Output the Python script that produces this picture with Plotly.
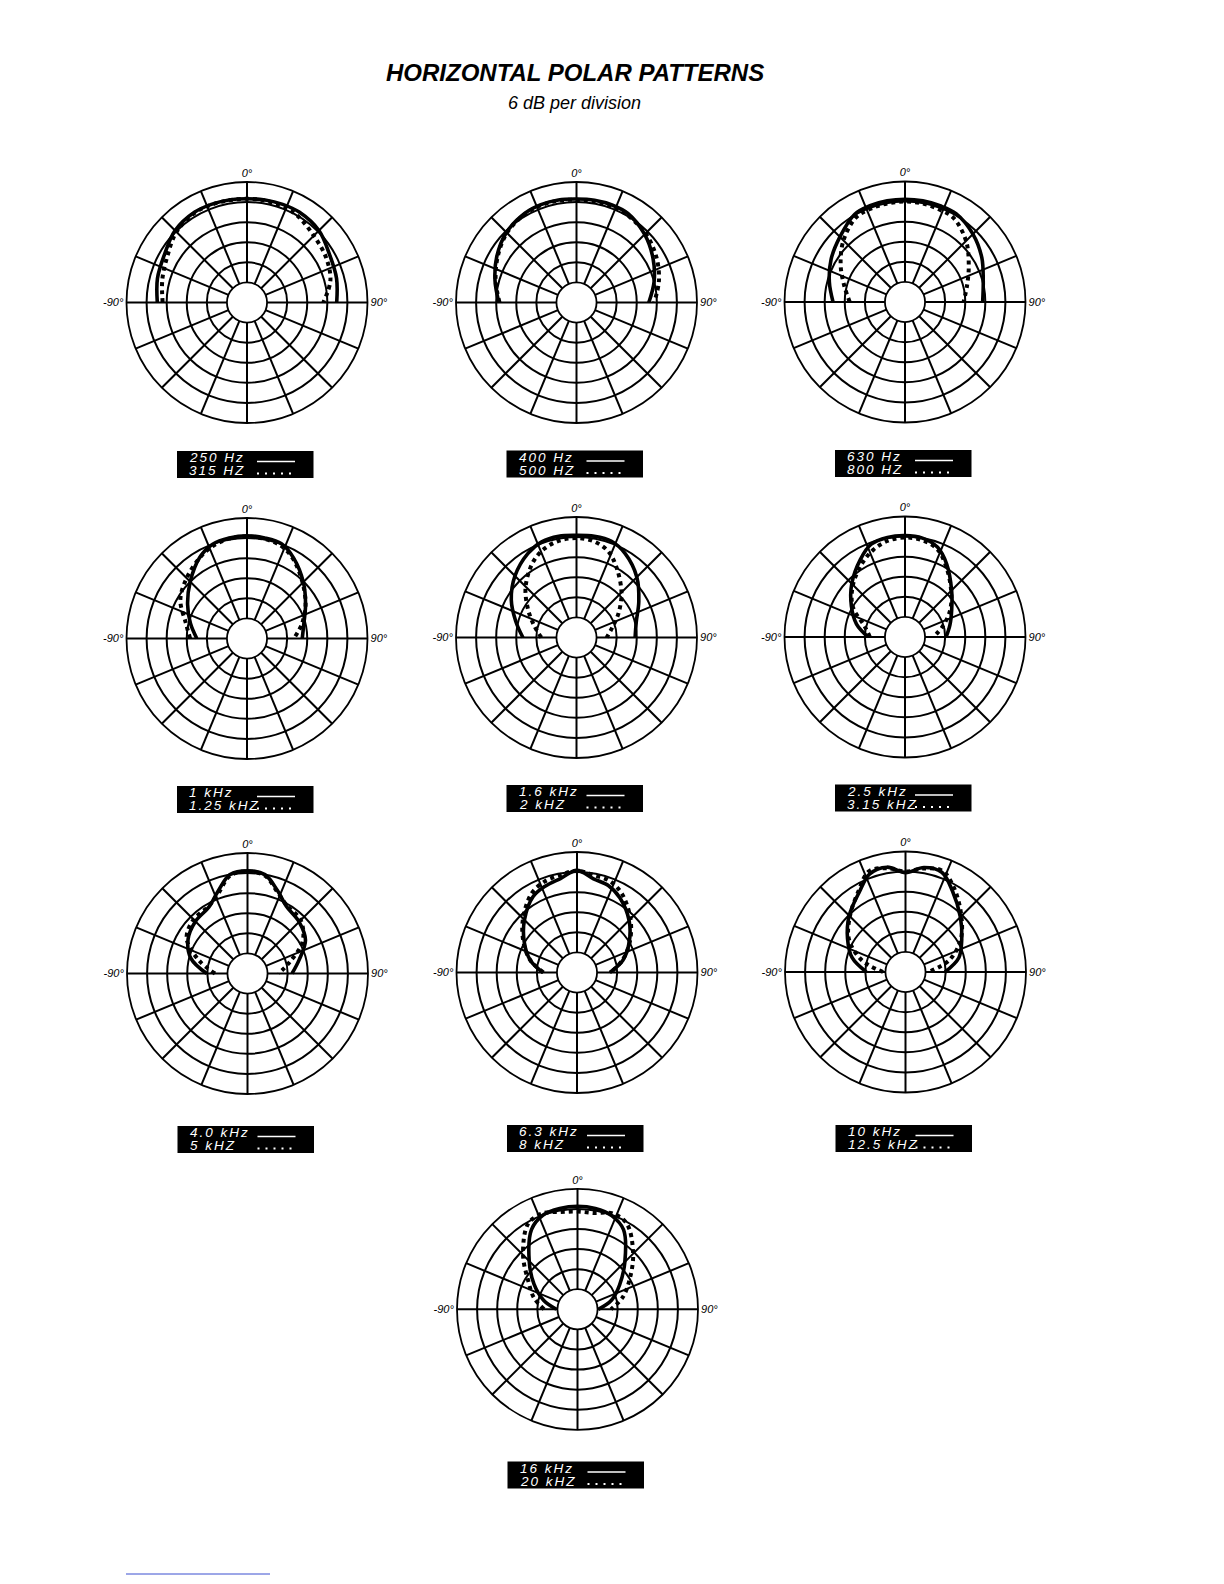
import plotly.graph_objects as go

# ---------------- data (dB relative, 6 dB per division, outer ring = 0 dB) -------------
ANGLES = [-90, -75, -60, -45, -30, -20, -10, 0, 10, 20, 30, 45, 60, 75, 90]

db_250hz = [-9.2, -8.3, -7.5, -5.6, -4.8, -4.8, -4.9, -5.0, -4.9, -4.8, -4.8, -5.6, -7.5, -8.3, -9.2]
db_315hz = [-10.8, -9.8, -8.5, -6.2, -5.0, -4.9, -5.0, -5.0, -5.1, -5.4, -6.0, -7.8, -8.8, -10.2, -13.2]
db_400hz = [-12.8, -10.8, -8.5, -6.4, -5.2, -4.9, -4.9, -5.1, -5.0, -5.0, -5.3, -7.2, -9.6, -12.0, -14.4]
db_500hz = [-13.0, -11.0, -8.8, -6.6, -5.4, -5.1, -5.1, -5.3, -5.4, -5.5, -5.8, -6.8, -8.5, -10.5, -12.8]
db_630hz = [-14.5, -12.6, -10.5, -8.5, -5.8, -5.4, -5.3, -5.3, -5.3, -5.4, -5.5, -7.3, -9.5, -11.8, -12.8]
db_800hz = [-19.5, -17.2, -13.8, -10.0, -6.8, -6.3, -6.1, -6.0, -6.1, -6.5, -7.0, -10.2, -14.0, -16.8, -18.5]
db_1khz = [-21.0, -18.5, -15.5, -12.0, -7.9, -6.0, -5.5, -5.3, -5.5, -5.9, -8.2, -12.2, -15.8, -18.4, -19.5]
db_1k25hz = [-19.0, -17.0, -13.0, -10.5, -8.0, -6.5, -5.7, -5.5, -5.8, -6.5, -8.5, -12.5, -15.8, -19.0, -22.0]
db_1k6hz = [-20.0, -17.2, -13.5, -10.0, -7.0, -5.6, -5.3, -5.5, -5.3, -5.4, -7.0, -10.5, -14.5, -17.5, -18.5]
db_2khz = [-25.5, -23.0, -19.3, -14.5, -10.0, -7.8, -6.6, -6.3, -6.8, -8.5, -12.0, -17.0, -21.5, -25.0, -27.0]
db_2k5hz = [-25.0, -21.0, -17.5, -13.5, -9.3, -6.5, -5.8, -5.7, -6.0, -7.5, -11.0, -16.3, -19.9, -22.1, -23.7]
db_3k15hz = [-25.5, -23.5, -18.0, -14.0, -10.5, -8.3, -6.8, -6.3, -6.6, -8.0, -11.5, -16.5, -20.5, -24.5, -27.5]
db_4khz = [-23.8, -18.5, -15.5, -14.0, -13.0, -10.0, -6.0, -5.3, -6.0, -9.7, -12.8, -14.2, -16.0, -20.0, -22.7]
db_5khz = [-26.3, -21.0, -15.0, -13.2, -12.8, -10.5, -6.3, -5.5, -6.3, -10.0, -12.5, -13.5, -17.0, -23.0, -26.7]
db_6k3hz = [-25.8, -21.5, -17.8, -13.8, -9.8, -8.5, -7.5, -5.5, -7.6, -8.4, -10.3, -14.0, -18.0, -21.8, -26.2]
db_8khz = [-26.0, -21.5, -17.5, -13.2, -8.8, -7.2, -6.5, -5.6, -6.5, -7.0, -9.0, -13.4, -17.8, -22.0, -26.0]
db_10khz = [-24.3, -19.5, -16.0, -12.2, -8.4, -4.8, -4.2, -6.3, -4.3, -4.3, -8.0, -12.8, -16.6, -19.5, -24.2]
db_12k5hz = [-29.3, -22.5, -16.5, -12.5, -8.0, -4.0, -4.5, -6.0, -4.6, -3.8, -7.0, -12.4, -17.0, -22.5, -29.2]
db_16khz = [-29.7, -25.5, -21.0, -15.6, -8.5, -6.0, -5.4, -5.2, -5.4, -6.2, -8.5, -16.0, -21.5, -25.5, -29.8]
db_20khz = [-26.0, -22.5, -19.0, -13.0, -6.5, -5.5, -6.5, -6.8, -6.8, -5.5, -6.5, -12.5, -18.0, -22.0, -26.0]

SOLID_SERIES = [db_250hz, db_400hz, db_630hz, db_1khz, db_1k6hz, db_2k5hz, db_4khz, db_6k3hz, db_10khz, db_16khz]
DOTTED_SERIES = [db_315hz, db_500hz, db_800hz, db_1k25hz, db_2khz, db_3k15hz, db_5khz, db_8khz, db_12k5hz, db_20khz]
SOLID_LABELS = ["250 Hz", "400 Hz", "630 Hz", "1 kHz", "1.6 kHz", "2.5 kHz", "4.0 kHz", "6.3 kHz", "10 kHz", "16 kHz"]
DOTTED_LABELS = ["315 HZ", "500 HZ", "800 HZ", "1.25 kHZ", "2 kHZ", "3.15 kHZ", "5 kHZ", "8 kHZ", "12.5 kHZ", "20 kHZ"]

GRID_ANGLES = [i * 22.5 for i in range(16)]
GRID_TEXT = {0: "0°", 90: "90°", 270: "-90°"}
RING_TICKS = [-30, -24, -18, -12, -6]

# ---------------- layout constants -------------
W, H = 1224, 1584
R = 120.5
HOLE = 20 / 120
CX = [247, 576.5, 905, 247, 576.5, 905, 247.5, 577, 905.5, 577.5]
CY = [302.5, 302.5, 302, 638.5, 637.5, 637, 973.5, 972.5, 972, 1309.3]
BOX_TOP = [451, 450.5, 450, 786, 785, 784.5, 1126, 1125, 1125, 1461.5]
FONT = "Liberation Sans"

fig = go.Figure()
layout_polars = {}
shapes = []
annotations = []

for i in range(10):
    pname = "polar" if i == 0 else f"polar{i+1}"
    fig.add_trace(go.Scatterpolar(
        r=SOLID_SERIES[i], theta=ANGLES, mode="lines", subplot=pname,
        line=dict(color="black", width=3.6, shape="spline", smoothing=1.0),
        showlegend=False, name=SOLID_LABELS[i]))
    fig.add_trace(go.Scatterpolar(
        r=DOTTED_SERIES[i], theta=ANGLES, mode="lines", subplot=pname,
        line=dict(color="black", width=4, shape="spline", smoothing=1.0, dash="4px,4px"),
        showlegend=False, name=DOTTED_LABELS[i]))
    cx, cy = CX[i], CY[i]
    layout_polars[pname] = dict(
        domain=dict(x=[(cx - R) / W, (cx + R) / W], y=[1 - (cy + R) / H, 1 - (cy - R) / H]),
        hole=HOLE,
        bgcolor="white",
        angularaxis=dict(
            rotation=90, direction="clockwise", tickmode="array",
            tickvals=GRID_ANGLES,
            ticktext=[GRID_TEXT.get(int(a) if a == int(a) else -1, "") for a in GRID_ANGLES],
            showgrid=True, gridcolor="black", gridwidth=1.5,
            showline=True, linecolor="black", linewidth=1.8, ticks="",
            tickfont=dict(family=FONT, size=11, color="black", style="italic"),
        ),
        radialaxis=dict(
            range=[-30, 0], tickmode="array", tickvals=RING_TICKS,
            showticklabels=False, ticks="", showline=False,
            showgrid=True, gridcolor="black", gridwidth=1.5,
        ),
    )
    # legend box
    bx = cx - 70
    bt = BOX_TOP[i]
    shapes.append(dict(type="rect", xref="paper", yref="paper",
                       x0=bx / W, x1=(bx + 136.5) / W, y0=1 - (bt + 27) / H, y1=1 - bt / H,
                       fillcolor="black", line=dict(width=0)))
    shapes.append(dict(type="line", xref="paper", yref="paper",
                       x0=(bx + 80) / W, x1=(bx + 118) / W, y0=1 - (bt + 10.5) / H, y1=1 - (bt + 10.5) / H,
                       line=dict(color="white", width=1.6)))
    shapes.append(dict(type="line", xref="paper", yref="paper",
                       x0=(bx + 80) / W, x1=(bx + 114) / W, y0=1 - (bt + 22.5) / H, y1=1 - (bt + 22.5) / H,
                       line=dict(color="white", width=2, dash="2px,6px")))
    for txt, dy in ((SOLID_LABELS[i], 6.8), (DOTTED_LABELS[i], 19.5)):
        annotations.append(dict(
            text=f'<span style="letter-spacing:2px">{txt}</span>',
            xref="paper", yref="paper", x=(bx + 10) / W, y=1 - (bt + dy) / H,
            xanchor="left", yanchor="middle", showarrow=False,
            font=dict(family=FONT, size=13.5, color="white", style="italic")))

annotations.append(dict(text="HORIZONTAL POLAR PATTERNS", xref="paper", yref="paper",
                        x=575 / W, y=1 - 73 / H, xanchor="center", yanchor="middle", showarrow=False,
                        font=dict(family=FONT, size=24, color="black", weight="bold", style="italic")))
annotations.append(dict(text="6 dB per division", xref="paper", yref="paper",
                        x=574 / W, y=1 - 103 / H, xanchor="center", yanchor="middle", showarrow=False,
                        font=dict(family=FONT, size=18, color="black", style="italic")))

shapes.append(dict(type="line", xref="paper", yref="paper", x0=126 / W, x1=270 / W,
                   y0=1 - 1574 / H, y1=1 - 1574 / H, line=dict(color="#3b4fd0", width=1)))

fig.update_layout(
    width=W, height=H, margin=dict(l=0, r=0, t=0, b=0),
    paper_bgcolor="white", plot_bgcolor="white", template="none",
    showlegend=False, shapes=shapes, annotations=annotations,
    **layout_polars,
)

fig.write_html("out.html", config={"displayModeBar": False},
               post_script="document.body.style.margin='0';document.body.style.overflow='hidden';")
